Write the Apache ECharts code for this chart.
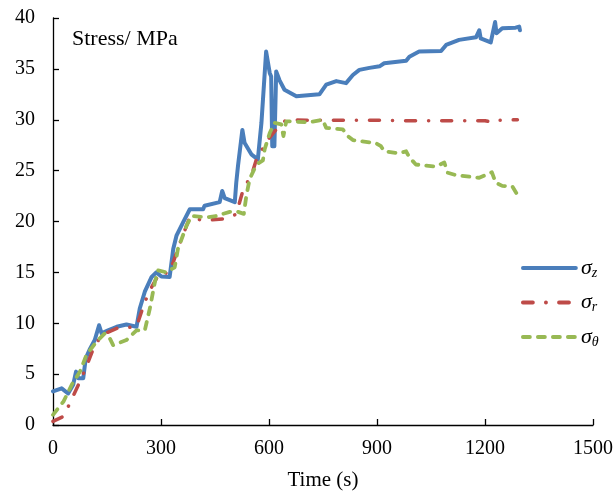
<!DOCTYPE html>
<html>
<head>
<meta charset="utf-8">
<script src="https://cdn.jsdelivr.net/npm/echarts@6/dist/echarts.min.js"></script>
<style>html,body{margin:0;padding:0;background:#fff;}#c{width:616px;height:496px;}</style>
</head>
<body>
<div id="c"></div>
<script>
// Time (s) and stress (MPa)
var zTime = [0,1,24,42,56,64,70,84,91,103,116,128,135,153,177,204,232,241,255,274,287,301,324,334,343,361,380,417,421,463,470,477,505,509,514,526,532,551,569,579,592,602,606,609,615,620,629,643,676,740,759,787,814,833,851,879,907,920,981,990,1017,1078,1092,1128,1175,1184,1188,1216,1228,1232,1248,1285,1295,1297];
var zStress = [3.3,3.45,3.6,3.1,3.95,5.25,4.6,4.6,6.55,7.5,8.35,9.8,9.0,9.3,9.65,9.88,9.65,11.45,13.1,14.55,15.0,14.6,14.55,17.3,18.6,19.9,21.2,21.2,21.55,21.9,23.0,22.3,21.9,23.8,25.5,29.0,27.75,26.6,26.1,29.7,36.7,34.6,34.25,27.4,27.4,34.75,33.9,32.95,32.3,32.5,33.45,33.8,33.6,34.4,34.9,35.1,35.25,35.55,35.8,36.2,36.7,36.75,37.35,37.85,38.1,38.8,38.0,37.6,39.6,38.5,39.0,39.05,39.15,38.8];

var rTime = [0,29,47,75,93,112,135,177,232,255,274,297,320,334,357,380,417,472,509,526,546,555,565,597,620,648,704,796,907,1000,1200,1221,1232,1290];
var rStress = [0.35,0.85,2.15,4.3,5.75,7.5,8.85,9.5,9.65,12.1,13.55,15.0,14.9,16.0,18.3,20.4,20.1,20.25,20.7,22.85,24.3,24.95,26.1,28.05,29.05,30.0,29.95,29.95,29.95,29.9,29.9,29.75,29.95,30.0];

var tTime = [0,29,52,75,93,121,144,158,167,204,232,255,269,283,292,315,338,347,371,385,426,454,491,514,530,537,546,565,583,588,602,615,634,640,648,712,749,759,805,819,833,897,911,920,962,981,990,1008,1064,1087,1096,1119,1184,1219,1230,1248,1276,1287];
var tStress = [1.0,2.3,3.95,5.25,6.9,8.2,9.0,8.5,7.85,8.35,9.3,9.3,11.45,14.05,15.2,15.0,15.5,17.3,19.6,20.55,20.4,20.55,20.95,20.95,20.75,22.5,24.15,25.6,26.0,27.1,28.7,29.7,29.55,28.4,29.85,29.75,30.0,29.2,29.05,28.4,28.0,27.7,27.4,26.9,26.7,26.9,26.3,25.6,25.4,25.8,24.8,24.55,24.3,24.85,23.8,23.5,23.45,22.8];

var seriesNames = ['σz','σr','σθ'];
var seriesSubs = ['z','r','θ'];
var xTicks = [0,300,600,900,1200,1500];
var yTicks = [0,5,10,15,20,25,30,35,40];

function pairs(xs, ys){ return xs.map(function(x,i){ return [x, ys[i]]; }); }

var serif = '"Liberation Serif","Times New Roman",serif';
var chart = echarts.init(document.getElementById('c'), null, {renderer:'canvas'});
chart.setOption({
  animation:false,
  backgroundColor:'#ffffff',
  grid:{left:53, right:22, top:18, bottom:69, containLabel:false},
  graphic:[{type:'text', left:72, top:28, style:{text:'Stress/ MPa', font:'22px ' + serif, fill:'#000'}}],
  legend:{
    orient:'vertical', left:516, top:251, itemWidth:53, itemHeight:12, itemGap:10.5,
    data:seriesNames,
    itemStyle:{opacity:0},
    lineStyle:{width:3.8},
    formatter:function(n){ var i = seriesNames.indexOf(n); return '{s|σ}{b|' + seriesSubs[i] + '}'; },
    textStyle:{
      rich:{
        s:{fontFamily:serif, fontStyle:'italic', fontSize:22, color:'#000', lineHeight:26},
        b:{fontFamily:serif, fontStyle:'italic', fontSize:14, color:'#000', padding:[10,0,0,0], lineHeight:26}
      }
    }
  },
  xAxis:{
    type:'value', min:xTicks[0], max:xTicks[xTicks.length-1], interval:300,
    name:'Time (s)', nameLocation:'middle', nameGap:45,
    nameTextStyle:{fontFamily:serif, fontSize:21, color:'#000'},
    axisLine:{show:true, lineStyle:{color:'#000', width:1.3}},
    axisTick:{show:true, inside:true, length:6, lineStyle:{color:'#000', width:1.3}},
    axisLabel:{fontFamily:serif, fontSize:20, color:'#000', margin:14, formatter:function(v){ return String(v); }},
    splitLine:{show:false}
  },
  yAxis:{
    type:'value', min:yTicks[0], max:yTicks[yTicks.length-1], interval:5,
    axisLine:{show:true, lineStyle:{color:'#000', width:1.3}},
    axisTick:{show:true, inside:true, length:6, lineStyle:{color:'#000', width:1.3}},
    axisLabel:{fontFamily:serif, fontSize:20, color:'#000', margin:18, formatter:function(v){ return String(v); }},
    splitLine:{show:false}
  },
  series:[
    {name:seriesNames[0], type:'line', data:pairs(zTime,zStress), symbol:'none', color:'#4A7EBB',
     lineStyle:{color:'#4A7EBB', width:4, cap:'round', join:'round'}},
    {name:seriesNames[1], type:'line', data:pairs(rTime,rStress), symbol:'none', color:'#BE4B48',
     lineStyle:{color:'#BE4B48', width:3.5, type:[10,13,0.1,13], cap:'round', join:'round'}},
    {name:seriesNames[2], type:'line', data:pairs(tTime,tStress), symbol:'none', color:'#98B954',
     lineStyle:{color:'#98B954', width:3.8, type:[7,8], cap:'round', join:'round'}}
  ]
});
</script>
</body>
</html>
